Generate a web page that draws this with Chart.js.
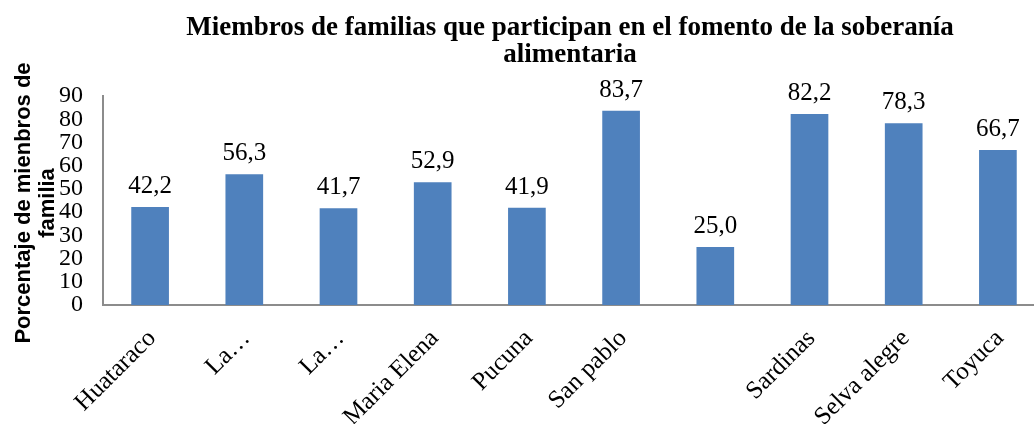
<!DOCTYPE html>
<html>
<head>
<meta charset="utf-8">
<script src="https://cdn.jsdelivr.net/npm/chart.js@4.4.1/dist/chart.umd.min.js"></script>
<style>
  html, body { margin: 0; padding: 0; background: #fff; overflow: hidden; }
  #wrap { width: 1045px; height: 424px; position: relative; }
</style>
</head>
<body>
<div id="wrap"><canvas id="barChart"></canvas></div>
<script>
const comunidades = ["Huataraco", "La\u2026", "La\u2026", "Maria Elena", "Pucuna", "San pablo", "", "Sardinas", "Selva alegre", "Toyuca"];
const porcentajes = [42.2, 56.3, 41.7, 52.9, 41.9, 83.7, 25.0, 82.2, 78.3, 66.7];
const titulo = ["Miembros de familias que participan en el fomento de la soberanía", "alimentaria"];
const tituloEjeY = ["Porcentaje de mienbros de", "familia"];

const serif = "'Liberation Serif', 'Times New Roman', serif";
const sans = "'Liberation Sans', Arial, sans-serif";

// etiquetas encima de cada barra
const etiquetas = {
    id: "etiquetas",
    afterDatasetsDraw(chart) {
        const ctx = chart.ctx;
        const meta = chart.getDatasetMeta(0);
        ctx.save();
        ctx.font = "25px " + serif;
        ctx.fillStyle = "#000";
        ctx.textAlign = "center";
        ctx.textBaseline = "bottom";
        meta.data.forEach((bar, i) => {
            const txt = porcentajes[i].toFixed(1).replace(".", ",");
            ctx.fillText(txt, bar.x, bar.y - 8);
        });
        ctx.restore();
    }
};

// titulo y titulo del eje Y dibujados a mano
const textos = {
    id: "textos",
    afterDraw(chart) {
        const ctx = chart.ctx;
        ctx.save();
        ctx.fillStyle = "#000";
        ctx.textAlign = "center";
        ctx.textBaseline = "middle";
        ctx.font = "bold 27px " + serif;
        ctx.fillText(titulo[0], 570, 28);
        ctx.fillText(titulo[1], 570, 55);

        ctx.font = "bold 22px " + sans;
        ctx.translate(0, 203);
        ctx.rotate(-Math.PI / 2);
        ctx.fillText(tituloEjeY[0], 0, 24);
        ctx.fillText(tituloEjeY[1], 0, 48);
        ctx.restore();
    }
};

const ctx = document.getElementById("barChart").getContext("2d");
new Chart(ctx, {
    type: "bar",
    data: {
        labels: comunidades,
        datasets: [{
            data: porcentajes,
            backgroundColor: "#4F81BD",
            barPercentage: 0.4,
            categoryPercentage: 1.0
        }]
    },
    options: {
        responsive: true,
        maintainAspectRatio: false,
        animation: false,
        layout: { padding: { top: 96, right: 0, left: 0, bottom: 0 } },
        plugins: {
            legend: { display: false },
            title: { display: false },
            tooltip: { enabled: false }
        },
        scales: {
            x: {
                grid: { display: false, drawTicks: false },
                border: { display: true, color: "#8c8c8c", width: 2 },
                ticks: {
                    autoSkip: false,
                    maxRotation: 45,
                    minRotation: 45,
                    padding: 19,
                    labelOffset: 2,
                    color: "#000",
                    font: { family: serif, size: 25 }
                },
                afterFit(scale) { scale.height = 119; }
            },
            y: {
                min: 0,
                max: 90,
                grid: { display: false, drawTicks: false },
                border: { display: true, color: "#8c8c8c", width: 2 },
                ticks: {
                    stepSize: 10,
                    autoSkip: false,
                    padding: 20,
                    color: "#000",
                    font: { family: serif, size: 24 }
                },
                afterFit(scale) { scale.width = 103; }
            }
        }
    },
    plugins: [etiquetas, textos]
});
</script>
</body>
</html>
